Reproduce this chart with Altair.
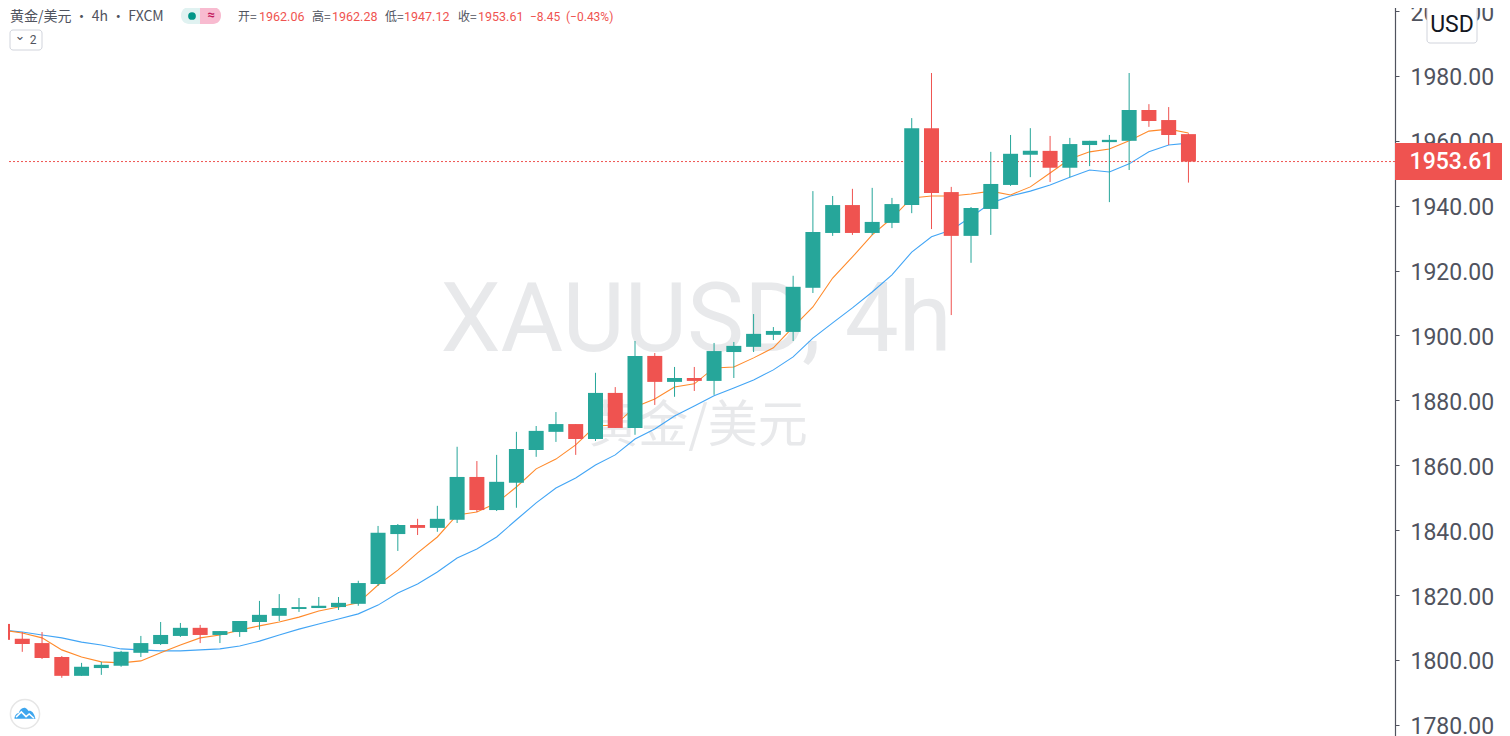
import altair as alt
import pandas as pd

opens = [1811.1,1806.5,1805.2,1800.9,1795.1,1797.5,1798.2,1802.2,1804.9,1807.4,1809.9,1807.7,1808.6,1811.7,1813.6,1815.7,1816.0,1816.3,1817.3,1823.4,
         1838.8,1841.6,1840.7,1843.2,1856.4,1846.2,1854.6,1864.7,1870.3,1872.7,1868.1,1882.3,1871.5,1893.7,1885.7,1886.9,1886.0,1894.9,1896.5,1900.2,
         1901.1,1914.7,1931.6,1940.2,1931.6,1934.7,1940.2,1963.9,1944.2,1930.7,1939.0,1946.4,1955.7,1956.9,1951.7,1958.7,1959.6,1960.0,1969.5,1966.4,1962.06]
closes = [1806.2,1804.9,1800.6,1795.1,1797.9,1798.5,1802.5,1805.2,1807.7,1809.9,1807.7,1808.9,1812.0,1813.9,1816.0,1816.3,1816.7,1817.6,1823.7,1839.2,
          1841.6,1840.7,1843.5,1856.4,1846.2,1854.9,1865.0,1870.6,1872.7,1868.1,1882.3,1871.5,1893.7,1885.7,1886.9,1886.0,1895.2,1896.8,1900.5,1901.4,
          1915.0,1931.9,1940.2,1931.6,1935.0,1940.5,1963.9,1943.9,1930.7,1939.3,1946.7,1956.0,1956.9,1951.7,1959.0,1960.0,1960.3,1969.5,1966.1,1961.8,1953.61]
highs = [1811.1,1808.6,1808.6,1801.2,1799.1,1799.4,1802.8,1807.4,1811.7,1811.4,1810.8,1808.9,1812.0,1818.2,1820.3,1819.1,1819.4,1819.4,1824.4,1841.3,
         1841.9,1843.5,1847.5,1865.7,1861.3,1863.2,1870.3,1872.1,1876.4,1872.7,1888.5,1884.1,1898.3,1894.6,1890.3,1890.3,1897.7,1898.0,1906.6,1902.6,
         1918.4,1944.5,1943.0,1945.2,1945.5,1942.4,1967.0,1980.9,1945.8,1939.6,1956.6,1961.8,1963.9,1961.5,1960.9,1960.0,1961.8,1980.9,1971.3,1970.4,1962.28]
lows = [1804.0,1802.5,1800.3,1794.5,1795.1,1795.4,1797.9,1800.9,1804.6,1807.1,1805.2,1805.2,1807.1,1809.3,1812.0,1814.8,1816.0,1815.4,1816.7,1822.8,
        1833.6,1838.5,1839.5,1842.2,1845.6,1845.9,1846.9,1862.6,1867.2,1863.2,1867.5,1871.5,1869.4,1878.6,1881.1,1882.9,1881.7,1886.9,1894.9,1898.6,
        1898.3,1913.1,1930.7,1931.0,1931.0,1933.1,1937.7,1932.8,1906.3,1922.4,1931.0,1946.1,1948.8,1947.3,1948.8,1952.2,1941.1,1951.0,1964.3,1958.7,1947.12]
orange_ma = [1809.2,1808.3,1806.8,1803.1,1800.9,1799.4,1799.1,1799.7,1802.2,1804.6,1806.8,1807.7,1809.2,1810.5,1811.7,1813.2,1815.1,1816.3,1817.6,1823.1,
             1827.7,1833.0,1837.9,1844.7,1845.6,1848.4,1853.3,1858.9,1861.9,1866.3,1872.1,1872.4,1878.0,1880.4,1884.1,1885.1,1890.0,1890.3,1893.1,1896.2,
             1902.6,1908.8,1917.7,1924.2,1931.0,1936.2,1942.4,1943.0,1943.0,1943.6,1944.5,1943.3,1945.8,1950.1,1954.4,1956.6,1957.5,1960.0,1963.0,1963.6,1962.4]
blue_ma = [1809.2,1808.6,1807.7,1806.8,1805.5,1804.6,1803.4,1803.1,1802.8,1802.8,1803.1,1803.4,1804.3,1805.8,1807.7,1809.5,1811.1,1812.6,1814.2,1816.9,
           1820.6,1823.4,1827.1,1831.4,1834.2,1837.9,1843.2,1848.4,1853.0,1856.1,1860.1,1863.2,1868.1,1871.2,1875.2,1878.3,1881.4,1883.8,1886.3,1889.4,
           1893.4,1899.2,1903.9,1908.5,1913.4,1918.7,1925.7,1930.4,1932.5,1936.5,1940.8,1943.0,1944.5,1946.4,1948.8,1951.0,1950.4,1952.9,1956.6,1958.7,1959.3]
last_price = 1953.61
y_ticks = [1780,1800,1820,1840,1860,1880,1900,1920,1940,1960,1980,2000]

GREEN, RED = "#26a69a", "#ef5350"
GREY = "#50535e"
W, H = 1395, 736
xs = alt.Scale(domain=[-0.1265, 70.45], nice=False, zero=False, padding=0)
ys = alt.Scale(domain=[1776.56, 2003.4], nice=False, zero=False, padding=0)

df = pd.DataFrame(dict(i=range(len(opens)), o=opens, c=closes, h=highs, l=lows, oma=orange_ma, bma=blue_ma))
df["dir"] = ["up" if c >= o else "down" for o, c in zip(opens, closes)]
colour = alt.Color("dir:N", scale=alt.Scale(domain=["up", "down"], range=[GREEN, RED]), legend=None)
one = pd.DataFrame({"k": [0]})
SANS, CJK = "Roboto", "Noto Sans CJK SC"


def txt(s, x, y, color=GREY, size=12, font=SANS, align="left", weight="normal"):
    return alt.Chart(one).mark_text(text=s, color=color, fontSize=size, font=font, align=align,
                                    baseline="middle", fontWeight=weight).encode(x=alt.value(x), y=alt.value(y))


def box(x, x2, y, y2, fill, stroke=None, radius=0, **kw):
    args = dict(color=fill, **kw)
    if stroke:
        args.update(stroke=stroke, strokeWidth=1)
    if radius:
        args["cornerRadius"] = radius
    return alt.Chart(one).mark_rect(**args).encode(x=alt.value(x), x2=alt.value(x2), y=alt.value(y), y2=alt.value(y2))


base = alt.Chart(df)
axis = alt.Axis(orient="right", values=y_ticks, format=".2f", grid=False, title=None, domainColor=GREY,
                domainWidth=1.2, tickColor=GREY, tickSize=4, labelColor=GREY, labelFont=SANS, labelFontSize=23,
                labelPadding=11, labelOffset=2, labelOverlap=False, labelBound=False, labelFlush=False)
X = alt.X("i:Q", scale=xs, axis=None)


def Y(field):
    return alt.Y(f"{field}:Q", scale=ys, axis=axis, title=None)


wm1 = txt("XAUUSD, 4h", 696, 322, "#e8e9eb", 96, SANS, "center")
wm2 = txt("黄金/美元", 698, 427, "#e8e9eb", 50, CJK, "center")


def ma(field, col):
    return base.mark_line(color=col, strokeWidth=1.1, clip=True, interpolate="linear").encode(x=X, y=Y(field))


price_line = alt.Chart(pd.DataFrame({"p": [last_price]})).mark_rule(color=RED, strokeWidth=1, strokeDash=[2, 2]).encode(y=Y("p"))
wicks = base.mark_rule(strokeWidth=1, clip=True).encode(x=X, y=Y("l"), y2="h:Q", color=colour)
bodies = base.mark_bar(size=15, clip=True).encode(x=X, y=Y("o"), y2="c:Q", color=colour)

price_box = box(W, 1510, 143, 180, RED)
price_txt = txt("1953.61", 1452, 162, "white", 23, SANS, "center", 500)
usd = box(1427, 1477, 5, 43, "white", "#d1d4dc", 3)
usd_txt = txt("USD", 1452, 25, "#131722", 23, SANS, "center")

legend = [
    txt("黄金/美元 · 4h · FXCM", 10, 17, GREY, 14, CJK),
    box(181, 200, 7, 24, "#e0f2f1", cornerRadiusTopLeft=8, cornerRadiusBottomLeft=8),
    box(200, 221, 7, 24, "#f8bbd0", cornerRadiusTopRight=8, cornerRadiusBottomRight=8),
    alt.Chart(one).mark_point(filled=True, color="#009688", size=60, opacity=1).encode(x=alt.value(192), y=alt.value(16)),
    txt("≈", 211, 15, "#c2185b", 13, SANS, "center", "bold"),
    box(10, 42, 30, 50, "white", "#d1d4dc", 3),
    txt("⌄", 20, 36, GREY, 13, "DejaVu Sans", "center"),
    txt("2", 33, 40, GREY, 12, SANS, "center"),
]
for lab, lx, val, vx in [("开=", 238, "1962.06", 259), ("高=", 312, "1962.28", 332),
                         ("低=", 385, "1947.12", 404), ("收=", 458, "1953.61", 478)]:
    legend.append(txt(lab, lx, 17, GREY, 12, CJK))
    legend.append(txt(val, vx, 17, RED, 12.5, SANS))
legend.append(txt("−8.45", 530, 17, RED, 12, SANS))
legend.append(txt("(−0.43%)", 566, 17, RED, 12, SANS))

logo = [
    alt.Chart(one).mark_point(filled=True, color="white", stroke="#e6e6e6", strokeWidth=1.5, size=850, opacity=1).encode(
        x=alt.value(25), y=alt.value(714)),
    alt.Chart(one).mark_point(filled=True, color="#3ea6ee", opacity=1, size=440,
                              shape="M-1 0.55 C-1 0.2 -0.8 0.05 -0.6 0 C-0.5 -0.3 -0.3 -0.55 0 -0.5 C0.2 -0.45 0.25 -0.25 0.35 -0.2 C0.6 -0.25 0.85 -0.05 1 0.55 Z").encode(
        x=alt.value(25), y=alt.value(713)),
    alt.Chart(one).mark_point(filled=False, color="white", opacity=1, size=440, strokeWidth=1.5,
                              shape="M-0.85 0.3 L-0.35 -0.2 L0.1 0.25 L0.4 0 L0.85 0.4").encode(
        x=alt.value(25), y=alt.value(714)),
]

chart = alt.layer(wm1, wm2, ma("bma", "#42a5f5"), ma("oma", "#ff8a2b"), price_line, wicks, bodies,
                  price_box, price_txt, usd, usd_txt, *legend, *logo).properties(
    width=W, height=H, padding={"left": -8, "top": -8, "right": 107, "bottom": 0},
    autosize=alt.AutoSizeParams(type="none"),
).configure_view(stroke=None)

chart.save("out.html", embed_options={"renderer": "svg", "actions": False})
